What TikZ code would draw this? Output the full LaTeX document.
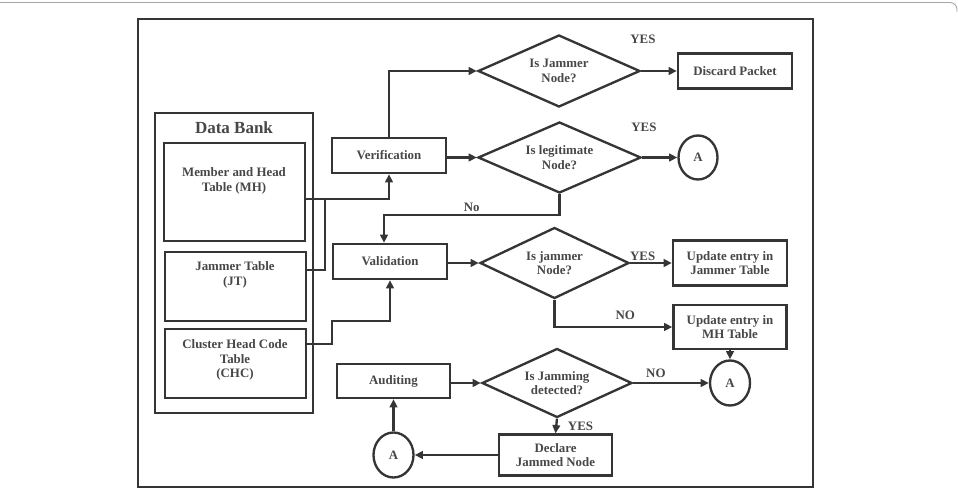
\documentclass[tikz,border=0pt]{standalone}
\usepackage{fontspec}
\setmainfont{Liberation Serif}
\newfontfamily\chartfont{Liberation Serif}
\usetikzlibrary{shapes.geometric,arrows.meta,calc}
\definecolor{inkgray}{HTML}{353535}
\definecolor{textgray}{HTML}{474747}

\begin{document}
\begin{tikzpicture}[x=0.03cm,y=-0.03cm,
  procbox/.style={draw=inkgray, line width=2pt, text=textgray,
    font=\chartfont\bfseries\fontsize{11}{12.5}\selectfont, align=center, inner sep=1pt},
  decision/.style={procbox, diamond, aspect=2.25, inner sep=0pt},
  joint/.style={procbox, ellipse, minimum width=1.2cm, minimum height=1.35cm},
  flow/.style={draw=inkgray, line width=2pt, -{Triangle[length=7pt,width=6.5pt]}},
  wire/.style={draw=inkgray, line width=2pt},
  tag/.style={text=textgray, font=\chartfont\bfseries\fontsize{11}{12.5}\selectfont, inner sep=1pt}]
  \useasboundingbox (0,0) rectangle (958,488);
  % page rule and frame
  \draw[gray!70, line width=0.8pt, rounded corners=6pt] (0,2.5) -- (957,2.5) -- (957,12);
  \draw[inkgray, line width=1.6pt] (138,19) rectangle (813,487);

  % data bank
  \node[procbox, minimum width=4.74cm, minimum height=9cm] (bank) at (234,263) {};
  \node[tag, font=\chartfont\bfseries\fontsize{14.5}{16}\selectfont] (banktitle) at (234,128) {Data Bank};
  \node[procbox, minimum width=4.23cm, minimum height=2.94cm] (mh) at (234.5,192) {};
  \node[tag, align=center] (mhtext) at (234,181) {Member and Head\\Table (MH)};
  \node[procbox, minimum width=4.23cm, minimum height=2.07cm] (jt) at (235.5,286.5) {};
  \node[tag, align=center] (jttext) at (235,275) {Jammer Table\\(JT)};
  \node[procbox, minimum width=4.23cm, minimum height=2.07cm] (chc) at (235.5,363.5) {};
  \node[tag, align=center] (chctext) at (235,360) {Cluster Head Code\\Table\\(CHC)};

  % processes
  \node[procbox, minimum width=3.42cm, minimum height=1.05cm] (verif) at (389,155.5) {Verification};
  \node[procbox, minimum width=3.42cm, minimum height=1.05cm] (valid) at (390,261.5) {Validation};
  \node[procbox, minimum width=3.39cm, minimum height=1.02cm] (audit) at (393.5,381) {Auditing};

  % decisions
  \node[decision, minimum width=4.86cm, minimum height=2.16cm] (isjam) at (559,71) {Is Jammer\\Node?};
  \node[decision, minimum width=4.89cm, minimum height=2.13cm] (legit) at (559.5,157.5) {Is legitimate\\Node?};
  \node[decision, minimum width=4.47cm, minimum height=2.13cm] (jamq) at (554.5,263) {Is jammer\\Node?};
  \node[decision, minimum width=4.5cm, minimum height=2.07cm] (detect) at (557,383) {Is Jamming\\detected?};

  % outcomes
  \node[procbox, minimum width=3.42cm, minimum height=1.05cm] (discard) at (735,71) {Discard Packet};
  \node[procbox, minimum width=3.42cm, minimum height=1.35cm] (updjt) at (730,263) {Update entry in\\Jammer Table};
  \node[procbox, minimum width=3.39cm, minimum height=1.32cm] (updmh) at (730,327) {Update entry in\\MH Table};
  \node[procbox, minimum width=3.39cm, minimum height=1.23cm] (declare) at (555.5,455) {Declare\\Jammed Node};
  \node[joint, minimum width=1.17cm, minimum height=1.32cm] (ajoin1) at (698,157.5) {A};
  \node[joint] (ajoin2) at (730,383) {A};
  \node[joint] (ajoin3) at (393.5,455) {A};

  % tables to processes
  \coordinate (tjoin) at (325,199);
  \coordinate (cbend) at (332,321);
  \draw[flow] (mh.east |- 0,199) -| (verif);
  \draw[wire] (jt.east |- 0,270) -| (tjoin);
  \draw[flow] (chc.east |- 0,344) -| (cbend) -| (valid);

  % flow
  \draw[flow] (verif.north) |- (isjam.west);
  \draw[flow] (verif.east |- legit.west) -- (legit.west);
  \draw[flow] (isjam.east) -- node[tag, pos=0.05, above=21pt] {YES} (discard.west);
  \draw[flow] (legit.east) -- node[tag, pos=0.05, above=20pt] {YES} (ajoin1.west);
  \draw[flow] (legit.south) |- node[tag, pos=0.75, above=1pt] {No} ($(valid.north)+(-6,-28)$) -- ($(valid.north)+(-6,0)$);
  \draw[flow] (valid.east |- jamq.west) -- (jamq.west);
  \draw[flow] (jamq.east) -- node[tag, pos=0.3, above=0pt] {YES} (updjt.west);
  \draw[flow] (jamq.south) |- node[tag, pos=0.8, above=4pt] {NO} (updmh.west);
  \draw[flow] (updmh.south) -- (ajoin2.north);
  \draw[flow] (audit.east |- detect.west) -- (detect.west);
  \draw[flow] (detect.east) -- node[tag, pos=0.3, above=3pt] {NO} (ajoin2.west);
  \draw[flow] (detect.south) -- node[tag, right=8pt] {YES} (declare.north);
  \draw[flow] (declare.west) -- (ajoin3.east);
  \draw[flow] (ajoin3.north) -- (audit.south);
\end{tikzpicture}
\end{document}
